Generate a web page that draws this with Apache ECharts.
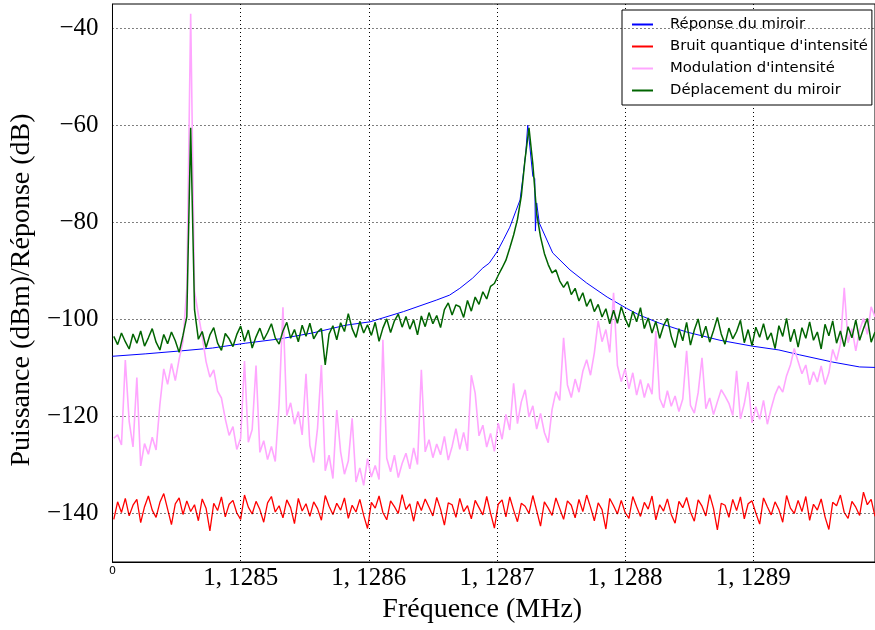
<!DOCTYPE html>
<html>
<head>
<meta charset="utf-8">
<script src="https://cdn.jsdelivr.net/npm/echarts@6/dist/echarts.min.js"></script>
<style>
html,body{margin:0;padding:0;background:#fff;}
#chart{width:875px;height:630px;}
</style>
</head>
<body>
<div id="chart"></div>
<script>
// ---- Data (frequencies in Hz, values in dBm / dB) ----
const seriesNames = ["Réponse du miroir", "Bruit quantique d'intensité", "Modulation d'intensité", "Déplacement du miroir"];

const yTicks = [-140, -120, -100, -80, -60, -40];

// Réponse du miroir (smooth curve)
const blueFreq = [1128400,1128426,1128453,1128478,1128504,1128531,1128556,1128582,1128601,1128627,1128653,1128663,1128671,1128681,1128689,1128694,1128700,1128705,1128710,1128715,1128718,1128720,1128722.5,1128724,1128728,1128729.5,1128730,1128731,1128733,1128743.5,1128757,1128770,1128786,1128801,1128811,1128827,1128848,1128874,1128899,1128920,1128936,1128962,1128983,1128995];
const blueVal = [-107.6,-107.1,-106.5,-105.9,-104.9,-104.0,-102.8,-101.2,-100.5,-98.4,-96.0,-95.0,-93.6,-91.5,-89.4,-88.4,-86.1,-83.6,-81.0,-77.5,-75.4,-71.3,-65.7,-60.0,-70.5,-71.0,-81.8,-76.0,-80.1,-86.3,-89.8,-92.5,-95.4,-97.7,-99.1,-100.8,-102.6,-104.3,-105.5,-106.3,-107.3,-108.8,-109.8,-109.9];

// Sampled spectra: one value every 3 Hz from 1128401 Hz
const sampleStart = 1128401;
const sampleStep = 3;

const redVal = [
-141.2,-137.6,-139.8,-136.9,-140.5,-138.3,-137.1,-141.9,-138.6,-136.4,-139.3,-140.8,-137.7,-135.9,-139.1,-142.3,-138.0,-136.8,-140.2,-137.4,
-139.6,-138.2,-141.5,-137.0,-138.9,-143.6,-137.9,-139.4,-136.6,-140.7,-138.1,-137.3,-139.9,-141.2,-136.2,-138.7,-140.1,-137.5,-139.2,-141.8,
-137.8,-136.5,-139.7,-138.4,-140.9,-137.2,-138.8,-142.1,-136.9,-139.5,-138.0,-140.6,-137.6,-139.0,-141.4,-136.3,-138.5,-140.2,-137.9,-139.3,
-136.8,-141.0,-138.3,-139.7,-137.1,-140.4,-143.1,-137.7,-138.9,-136.4,-139.8,-141.3,-137.4,-138.6,-140.0,-136.1,-139.2,-138.0,-141.6,-137.5,
-139.4,-137.0,-138.7,-140.5,-136.7,-139.1,-142.4,-137.8,-138.2,-140.8,-136.9,-139.6,-138.4,-141.1,-137.3,-138.8,-140.3,-136.5,-139.9,-143.0,
-138.1,-137.2,-140.7,-136.6,-139.3,-141.7,-137.9,-138.5,-140.0,-136.3,-139.4,-142.6,-137.6,-138.9,-140.4,-136.8,-139.0,-141.2,-137.4,-138.3,
-140.9,-137.1,-139.6,-136.2,-138.7,-141.5,-137.8,-139.2,-143.2,-136.9,-138.4,-140.1,-137.3,-139.8,-141.0,-136.5,-138.6,-140.6,-137.7,-139.1,
-136.4,-141.3,-138.2,-139.5,-137.0,-140.2,-142.0,-137.5,-138.8,-136.7,-139.7,-141.6,-137.2,-138.5,-140.5,-136.1,-139.0,-143.4,-137.9,-138.3,
-140.8,-137.1,-139.4,-136.6,-141.1,-138.0,-137.4,-139.9,-142.2,-136.8,-138.6,-140.3,-137.6,-139.2,-141.8,-136.3,-138.9,-140.0,-137.3,-139.6,
-136.5,-141.4,-138.1,-139.3,-137.0,-140.7,-143.3,-137.7,-138.4,-136.2,-139.8,-141.0,-137.5,-138.7,-140.4,-135.6,-138.2,-137.1,-140.6
];

const pinkVal = [
-124.5,-123.8,-125.9,-108.4,-121.0,-126.3,-112.0,-130.2,-125.6,-127.8,
-124.3,-126.9,-117.5,-110.2,-113.4,-109.1,-112.6,-108.2,-104.5,-93.5,
-37.0,-94.2,-99.0,-103.5,-108.7,-111.9,-110.4,-114.8,-116.2,-120.5,
-123.9,-122.1,-126.8,-124.5,-108.6,-125.3,-122.7,-109.5,-127.4,-125.0,
-128.9,-126.2,-129.3,-117.4,-97.5,-119.8,-117.2,-121.6,-119.0,-123.8,
-111.2,-126.0,-129.5,-122.4,-109.4,-131.2,-128.0,-132.8,-118.7,-127.3,
-131.9,-129.2,-120.4,-133.5,-130.6,-134.2,-128.7,-132.5,-130.1,-133.0,
-104.2,-128.6,-131.4,-128.0,-132.6,-129.7,-127.6,-130.8,-126.5,-129.9,
-110.4,-127.3,-124.8,-128.5,-125.7,-127.9,-124.1,-129.0,-126.2,-122.5,
-126.8,-123.3,-127.1,-111.5,-115.2,-124.0,-121.8,-126.3,-123.5,-127.2,
-121.4,-124.7,-119.6,-122.8,-113.2,-121.5,-117.0,-114.5,-120.1,-117.8,
-122.6,-119.4,-123.3,-125.4,-118.6,-114.9,-116.7,-103.8,-113.5,-116.1,
-112.3,-115.0,-110.7,-108.3,-111.5,-106.9,-100.3,-104.6,-102.1,-106.8,
-94.5,-109.5,-112.8,-110.2,-114.3,-111.0,-115.6,-112.4,-116.1,-113.2,
-115.4,-102.4,-116.3,-118.2,-114.7,-117.9,-115.8,-119.0,-116.4,-106.5,
-117.7,-119.3,-115.1,-107.9,-118.4,-116.2,-119.6,-117.0,-114.5,-115.8,
-117.3,-119.8,-110.6,-120.5,-117.4,-112.9,-121.3,-118.0,-120.6,-116.7,
-121.6,-118.3,-115.5,-113.7,-115.0,-111.6,-109.4,-106.0,-108.7,-111.2,
-109.4,-113.5,-110.8,-112.9,-109.6,-113.4,-111.0,-106.2,-108.5,-105.1,
-93.5,-104.8,-101.9,-106.5,-102.3,-99.8,-103.1,-97.4,-99.5
];

const greenVal = [
-103.5,-105.2,-102.8,-104.6,-106.1,-103.0,-104.9,-102.4,-105.5,-103.8,
-101.9,-104.7,-106.3,-103.1,-105.0,-102.6,-104.4,-106.8,-103.3,-99.5,
-60.5,-98.0,-104.1,-102.5,-105.8,-103.2,-101.7,-104.9,-106.4,-102.9,
-104.0,-105.6,-103.1,-101.4,-104.5,-102.2,-105.9,-103.6,-101.8,-104.2,
-102.7,-100.9,-103.8,-105.1,-102.4,-100.6,-103.9,-102.1,-104.6,-101.2,
-103.5,-100.8,-104.0,-102.6,-101.9,-109.4,-103.0,-101.3,-104.2,-100.7,
-102.5,-98.8,-101.9,-103.7,-100.4,-102.8,-101.1,-103.3,-100.6,-104.5,
-101.8,-99.9,-102.7,-100.3,-98.9,-101.6,-99.4,-102.0,-100.1,-103.2,
-99.3,-101.5,-98.6,-100.9,-99.2,-101.7,-98.0,-96.6,-99.1,-97.0,
-97.4,-99.6,-96.1,-98.3,-95.4,-96.9,-94.3,-95.8,-93.2,-92.6,
-90.9,-89.4,-87.8,-85.3,-82.6,-79.4,-74.6,-66.8,-60.5,-68.0,
-78.2,-83.0,-86.4,-88.7,-90.4,-89.8,-92.1,-93.4,-92.2,-94.9,
-93.6,-96.2,-94.5,-97.3,-95.8,-98.4,-96.9,-99.5,-97.8,-100.9,
-98.1,-100.8,-97.4,-99.8,-101.6,-98.3,-100.5,-97.6,-101.9,-99.7,
-102.8,-100.4,-103.9,-101.3,-99.8,-103.5,-105.8,-101.9,-104.4,-100.6,
-105.3,-102.2,-99.9,-103.8,-101.4,-104.7,-102.3,-99.6,-103.0,-105.1,
-101.8,-104.0,-102.5,-100.2,-104.8,-102.1,-105.4,-101.6,-103.7,-100.9,
-104.2,-102.8,-106.0,-101.3,-103.5,-99.8,-104.6,-102.0,-105.7,-101.7,
-103.9,-100.5,-104.3,-102.6,-106.1,-101.0,-103.4,-100.3,-104.9,-102.4,
-105.6,-101.5,-103.8,-100.1,-104.3,-101.9,-99.8,-104.7,-102.6
];

// ---- Build ----
function sampled(vals) {
  return vals.map((v, i) => [sampleStart + i * sampleStep, v]);
}
const blueData = blueFreq.map((f, i) => [f, blueVal[i]]);

const serif = 'Liberation Serif';
const chart = echarts.init(document.getElementById('chart'), null, {renderer: 'canvas'});

const dotted = {color: '#000', width: 1, type: [1, 3]};

chart.setOption({
  animation: false,
  backgroundColor: '#fff',
  grid: {left: 112, right: 0, top: 4, bottom: 68, show: true, borderColor: '#000', borderWidth: 1, backgroundColor: 'transparent'},
  legend: {
    data: seriesNames,
    orient: 'vertical',
    left: 622, top: 10,
    padding: [7, 4, 7, 10],
    itemGap: 7,
    itemWidth: 21, itemHeight: 2,
    icon: 'rect',
    backgroundColor: '#fff',
    borderColor: '#000', borderWidth: 1, borderRadius: 0,
    textStyle: {fontFamily: 'DejaVu Sans', fontSize: 14.8, color: '#000', padding: [0, 0, 0, 12]}
  },
  xAxis: {
    type: 'value',
    min: 1128400, max: 1128995, interval: 100,
    name: 'Fréquence (MHz)',
    nameLocation: 'middle',
    nameGap: 30,
    nameTextStyle: {fontFamily: serif, fontSize: 28, color: '#000', padding: [0, 23, 0, 0]},
    axisLine: {show: true, lineStyle: {color: '#000', width: 1}},
    axisTick: {show: false},
    splitLine: {show: true, lineStyle: dotted},
    axisLabel: {
      margin: 4,
      showMaxLabel: false,
      fontFamily: serif, fontSize: 25, color: '#000',
      formatter: function (v) {
        if (v === 1128400) return '{z|0}';
        if (v % 100 === 0) return '1, ' + String(v / 100).slice(1);
        return '';
      },
      rich: {z: {fontFamily: 'DejaVu Sans', fontSize: 11, color: '#000', verticalAlign: 'top', padding: [0, 0, 10, 0]}}
    }
  },
  yAxis: {
    type: 'value',
    min: -150, max: -35, interval: 10,
    name: 'Puissance (dBm)/Réponse (dB)',
    nameLocation: 'middle',
    nameGap: 75,
    nameTextStyle: {fontFamily: serif, fontSize: 28, color: '#000', padding: [0, 14, 0, 0]},
    axisLine: {show: true, lineStyle: {color: '#000', width: 1}},
    axisTick: {show: false},
    splitLine: {show: false},
    axisLabel: {
      margin: 14,
      showMaxLabel: false,
      fontFamily: serif, fontSize: 25, color: '#000',
      formatter: function (v) {
        if (v % 20 === 0 && yTicks.indexOf(v) >= 0) return '\u2212' + Math.abs(v);
        return '';
      }
    }
  },
  series: [
    {
      name: '_grid', type: 'line', data: [], z: 1, silent: true,
      markLine: {silent: true, symbol: 'none', label: {show: false}, lineStyle: dotted,
        data: yTicks.map(v => ({yAxis: v}))}
    },
    {name: seriesNames[0], type: 'line', data: blueData, showSymbol: false, symbol: 'none', color: '#0000ff', lineStyle: {color: '#0000ff', width: 1}, z: 3},
    {name: seriesNames[1], type: 'line', data: sampled(redVal), showSymbol: false, symbol: 'none', color: '#ff0000', lineStyle: {color: '#ff0000', width: 1.3}, z: 4},
    {name: seriesNames[2], type: 'line', data: sampled(pinkVal), showSymbol: false, symbol: 'none', color: '#ffa6ff', lineStyle: {color: '#ffa6ff', width: 1.6}, z: 5},
    {name: seriesNames[3], type: 'line', data: sampled(greenVal), showSymbol: false, symbol: 'none', color: '#006400', lineStyle: {color: '#006400', width: 1.5}, z: 6}
  ]
});
</script>
</body>
</html>
